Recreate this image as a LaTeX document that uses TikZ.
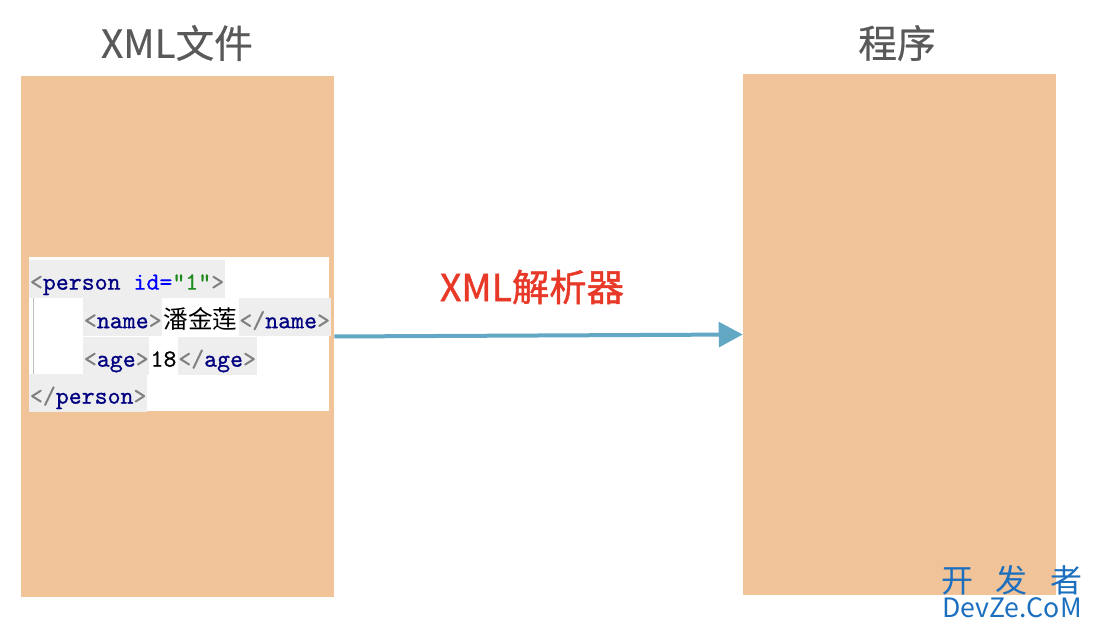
\documentclass[tikz,border=0pt]{standalone}
\usepackage{fontspec}
\newfontfamily\cjk{Noto Sans CJK SC}
\newfontfamily\cjkheavy[FakeBold=1.2]{Noto Sans CJK SC}
\newfontfamily\cjkmed[FakeBold=0.5]{Noto Sans CJK SC}
\newfontfamily\codefont[FakeBold=0.7]{lmmono10-regular.otf}
\usetikzlibrary{arrows.meta,positioning}
\definecolor{peach}{HTML}{F0C398}
\definecolor{titlegray}{HTML}{595959}
\definecolor{parserred}{HTML}{E83828}
\definecolor{arrowblue}{HTML}{62A8C4}
\definecolor{codegray}{HTML}{EEEEEE}
\definecolor{codenavy}{HTML}{000080}
\definecolor{codebracket}{HTML}{808080}
\definecolor{codeblue}{HTML}{0000FF}
\definecolor{codegreen}{HTML}{1E8A1E}
\definecolor{wmblue}{HTML}{1C6FBF}
\newcommand{\lt}{\textcolor{codebracket}{<}}
\newcommand{\gt}{\textcolor{codebracket}{>}}
\newcommand{\ltsl}{\textcolor{codebracket}{</}}
\newcommand{\tagname}[1]{\textcolor{codenavy}{#1}}
\tikzset{
  panel/.style={fill=peach, inner sep=0, minimum width=234.75pt, minimum height=390.75pt},
  title/.style={text=titlegray, font=\cjkmed\fontsize{29}{32}\selectfont},
  parser/.style={text=parserred, font=\cjkheavy\fontsize{28}{32}\selectfont},
  codebg/.style={fill=codegray, inner xsep=0.5pt, inner ysep=0, minimum height=28.5pt,
    text height=18pt, text depth=2pt, anchor=west, font=\codefont\fontsize{18.5}{21}\selectfont},
  codews/.style={codebg, fill=white},
  wmtext/.style={text=wmblue, inner sep=0, font=\cjk},
}
\begin{document}
\begin{tikzpicture}[x=0.75pt, y=-0.75pt]
  \useasboundingbox (0,0) rectangle (1096,630);
  %Panels
  \node[panel] (xmlbox) at (177.5,336.5) {};
  \node[panel] (progbox) at (899.5,334.5) {};
  \node[title] (xmltitle) at (177,43) {XML文件};
  \node[title] (progtitle) at (897,43) {程序};
  %Code snippet
  \fill[white] (29,257) rectangle (329,411);
  \draw[codegray!80!black, line width=0.6pt] (33,298) -- (33,375);
  \node[codebg] (personopen) at (29,279) {\lt\tagname{person} \textcolor{codeblue}{id=}\textcolor{codegreen}{"1"}\gt};
  \node[codebg] (nameopen) at (83,317.5) {\lt\tagname{name}\gt};
  \node[codews, right=0pt of nameopen] (namevalue) {\cjk 潘金莲};
  \node[codebg, right=0pt of namevalue] (nameclose) {\ltsl\tagname{name}\gt};
  \node[codebg] (ageopen) at (83,356) {\lt\tagname{age}\gt};
  \node[codews, right=0pt of ageopen] (agevalue) {18};
  \node[codebg, right=0pt of agevalue] (ageclose) {\ltsl\tagname{age}\gt};
  \node[codebg] (personclose) at (29,393) {\ltsl\tagname{person}\gt};
  %Parser arrow
  \draw[arrowblue, line width=3pt, -{Triangle[length=18pt, width=18.5pt]}] (xmlbox.east) -- (progbox.west);
  \node[parser] (parserlabel) at (532,287) {XML解析器};
  %Watermark
  \node[wmtext, font=\cjk\fontsize{24}{26}\selectfont] (wmcn) at (1012,580) {开\hspace{17pt}发\hspace{17pt}者};
  \node[wmtext, font=\cjk\fontsize{20}{22}\selectfont] (wmen) at (1012,608) {DevZe.CoM};
\end{tikzpicture}
\end{document}
